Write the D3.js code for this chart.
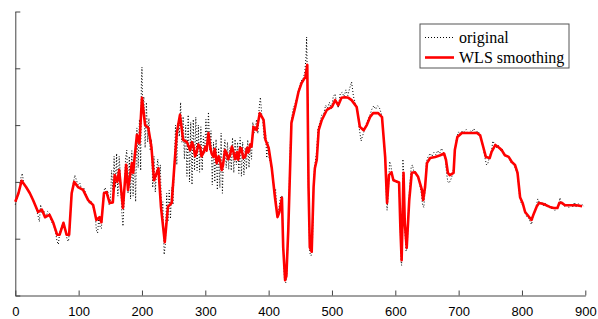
<!DOCTYPE html>
<html>
<head>
<meta charset="utf-8">
<script src="https://cdn.jsdelivr.net/npm/d3@7"></script>
<style>
  body { margin: 0; background: #fff; }
</style>
</head>
<body>
<div id="chart"></div>
<script>
// Settings
const SIZE = [598, 319]
const X_RANGE = [15.3, 585.3]
const Y_RANGE = [295.5, 11.5]

const xTicks = [0, 100, 200, 300, 400, 500, 600, 700, 800, 900]
const yTicks = [0, 1, 2, 3, 4, 5]
const legendLabels = ["original", "WLS smoothing"]

// raw signal [x, value]
const original = [
  [0, 1.60], [3, 1.72], [6, 1.85], [9, 2.08], [11, 2.15], [13, 2.00], [16, 1.92], [20, 1.86],
  [24, 1.78], [27, 1.70], [30, 1.62], [33, 1.52], [36, 1.40], [38, 1.30], [40, 1.60], [42, 1.45],
  [45, 1.50], [48, 1.35], [51, 1.48], [54, 1.45], [57, 1.30], [60, 1.25], [63, 1.15], [66, 0.95],
  [68, 0.90], [70, 1.10], [73, 1.20], [76, 1.30], [79, 1.15], [82, 0.98], [84, 0.95], [86, 1.20],
  [88, 1.70], [91, 1.95], [94, 2.12], [96, 2.05], [99, 1.95], [102, 1.98], [105, 1.85], [108, 1.90],
  [111, 1.80], [114, 1.70], [117, 1.62], [120, 1.65], [123, 1.55], [126, 1.45], [128, 1.15], [130, 1.10],
  [132, 1.40], [134, 1.20], [136, 1.18], [138, 1.60], [140, 1.85], [142, 1.90], [144, 1.78], [146, 1.85],
  [148, 1.60], [150, 1.60], [152, 2.20], [154, 1.85], [156, 2.45], [158, 1.90], [160, 2.50], [162, 1.75],
  [164, 2.45], [166, 2.10], [168, 1.50], [170, 1.22], [172, 1.70], [174, 2.40], [176, 2.56], [178, 1.80],
  [180, 2.45], [182, 1.70], [184, 2.55], [186, 1.75], [188, 2.50], [190, 1.65], [192, 2.95], [194, 2.25],
  [196, 3.10], [198, 2.20], [199, 3.70], [200, 4.02], [201, 3.30], [203, 3.50], [205, 2.60], [207, 3.40],
  [209, 2.70], [211, 3.12], [213, 2.55], [215, 2.75], [217, 1.90], [219, 2.45], [221, 1.82], [223, 2.20],
  [225, 2.40], [227, 2.05], [229, 2.30], [231, 1.40], [233, 1.65], [235, 0.72], [237, 0.90], [239, 1.80],
  [241, 1.30], [243, 1.85], [245, 1.35], [247, 1.90], [249, 1.60], [251, 2.30], [253, 3.00], [255, 2.30],
  [257, 3.05], [259, 2.80], [261, 3.40], [263, 2.70], [265, 3.15], [267, 2.40], [269, 3.00], [271, 2.10],
  [273, 3.18], [275, 2.00], [277, 3.05], [279, 1.95], [281, 3.10], [283, 2.20], [285, 3.14], [287, 2.20],
  [289, 3.00], [291, 2.17], [293, 2.97], [295, 2.20], [297, 2.80], [299, 2.50], [301, 3.10], [303, 2.60],
  [305, 3.23], [307, 2.55], [309, 2.90], [311, 1.95], [313, 2.70], [315, 2.00], [317, 2.75], [319, 1.86],
  [321, 2.60], [323, 1.90], [325, 2.86], [327, 1.80], [329, 2.50], [331, 2.74], [333, 2.25], [335, 2.70],
  [337, 2.22], [339, 2.60], [341, 2.20], [343, 2.78], [345, 2.16], [347, 2.75], [349, 2.30], [351, 2.70],
  [353, 2.15], [355, 2.78], [357, 2.10], [359, 2.70], [361, 2.12], [363, 2.60], [365, 2.22], [367, 2.74],
  [369, 2.25], [371, 2.65], [373, 2.40], [375, 3.05], [377, 2.86], [379, 2.95], [381, 3.10], [383, 2.85],
  [385, 3.30], [387, 3.49], [389, 3.20], [391, 3.04], [393, 2.75], [395, 2.90], [397, 2.42], [399, 2.70],
  [401, 2.40], [403, 2.35], [405, 2.20], [407, 2.10], [409, 1.80], [411, 1.88], [413, 1.50], [415, 1.40],
  [417, 1.60], [419, 1.75], [421, 1.75], [423, 0.90], [425, 0.30], [427, 0.22], [429, 0.40], [431, 1.20],
  [434, 2.60], [436, 3.10], [439, 3.30], [442, 3.38], [445, 3.50], [448, 3.65], [451, 3.78], [454, 3.80],
  [457, 3.92], [459, 4.20], [460, 4.55], [462, 3.20], [463, 1.70], [465, 0.75], [467, 0.70], [469, 0.80],
  [471, 2.00], [473, 2.30], [476, 2.55], [478, 2.95], [481, 3.05], [484, 3.18], [487, 3.20], [490, 3.35],
  [493, 3.30], [496, 3.40], [499, 3.28], [502, 3.50], [505, 3.55], [507, 3.40], [510, 3.30], [513, 3.55],
  [516, 3.58], [519, 3.50], [522, 3.62], [525, 3.52], [528, 3.65], [531, 3.76], [534, 3.50], [537, 3.38],
  [540, 3.30], [543, 2.95], [546, 2.72], [548, 2.80], [551, 2.90], [554, 3.02], [557, 3.10], [560, 3.18],
  [563, 3.28], [566, 3.34], [569, 3.28], [572, 3.34], [575, 3.30], [578, 3.20], [581, 2.90], [584, 2.40],
  [586, 1.70], [587, 1.50], [589, 1.80], [591, 2.36], [593, 2.30], [595, 2.10], [598, 2.05], [601, 2.00],
  [604, 1.98], [606, 1.95], [608, 1.10], [609, 0.60], [610, 0.53], [611, 1.20], [612, 2.40], [613, 2.20],
  [615, 1.20], [617, 0.78], [619, 0.85], [621, 1.60], [623, 1.95], [625, 2.25], [627, 2.30], [629, 2.20],
  [632, 2.18], [635, 2.10], [638, 2.00], [641, 1.80], [643, 1.60], [645, 1.55], [647, 1.85], [649, 2.35],
  [652, 2.45], [655, 2.50], [658, 2.45], [661, 2.52], [664, 2.48], [667, 2.55], [670, 2.50], [673, 2.59],
  [676, 2.52], [679, 2.40], [681, 2.15], [683, 2.00], [685, 1.98], [688, 2.05], [691, 2.15], [694, 2.50],
  [697, 2.80], [700, 2.88], [703, 2.84], [706, 2.90], [709, 2.88], [712, 2.92], [715, 2.85], [718, 2.90],
  [721, 2.88], [724, 2.94], [727, 2.86], [730, 2.90], [733, 2.85], [736, 2.72], [739, 2.58], [742, 2.40],
  [744, 2.30], [746, 2.32], [749, 2.45], [752, 2.55], [754, 2.72], [757, 2.66], [760, 2.60], [763, 2.64],
  [766, 2.55], [769, 2.58], [772, 2.48], [775, 2.45], [778, 2.47], [781, 2.38], [784, 2.32], [787, 2.30],
  [790, 2.22], [793, 2.12], [796, 1.78], [799, 1.62], [802, 1.58], [805, 1.45], [808, 1.38], [811, 1.36],
  [813, 1.30], [815, 1.25], [817, 1.35], [820, 1.48], [823, 1.60], [825, 1.70], [828, 1.62], [831, 1.65],
  [834, 1.58], [837, 1.62], [840, 1.55], [843, 1.58], [846, 1.52], [849, 1.56], [852, 1.50], [855, 1.55],
  [858, 1.58], [860, 1.72], [862, 1.62], [865, 1.60], [868, 1.56], [871, 1.62], [874, 1.55], [877, 1.62],
  [880, 1.56], [883, 1.64], [886, 1.55], [889, 1.62], [892, 1.56], [895, 1.60], [898, 1.57]
]

// smoothed curve (red)  [x, value]
const wls = [
  [0, 1.65], [5, 1.80], [10, 2.02], [17, 1.91], [23, 1.80], [28, 1.68], [36, 1.47], [42, 1.51],
  [47, 1.38], [54, 1.42], [60, 1.28], [66, 1.07], [70, 1.07], [76, 1.28], [81, 1.07], [85, 1.07],
  [89, 1.80], [93, 2.00], [99, 1.91], [107, 1.86], [115, 1.68], [123, 1.59], [128, 1.33], [133, 1.38],
  [136, 1.29], [140, 1.80], [144, 1.82], [149, 1.63], [154, 1.64], [157, 2.12], [161, 2.00], [164, 2.21],
  [170, 1.54], [175, 2.30], [178, 1.86], [184, 2.33], [186, 2.16], [192, 2.83], [196, 2.68], [200, 3.48],
  [205, 3.00], [210, 2.95], [215, 2.61], [219, 2.03], [226, 2.24], [230, 1.56], [236, 0.94], [241, 1.56],
  [247, 1.63], [251, 2.26], [255, 2.86], [260, 3.18], [265, 2.74], [271, 2.70], [276, 2.56], [279, 2.70],
  [281, 2.64], [284, 2.45], [286, 2.51], [289, 2.66], [292, 2.61], [294, 2.45], [297, 2.51], [300, 2.62],
  [302, 2.55], [305, 2.86], [308, 2.60], [310, 2.50], [313, 2.44], [315, 2.58], [318, 2.33], [321, 2.45],
  [323, 2.39], [326, 2.21], [328, 2.30], [331, 2.56], [334, 2.50], [336, 2.40], [339, 2.47], [342, 2.62],
  [344, 2.55], [347, 2.40], [350, 2.52], [352, 2.39], [355, 2.60], [357, 2.59], [360, 2.42], [363, 2.44],
  [366, 2.60], [368, 2.52], [371, 2.66], [373, 2.62],
  [376, 2.97], [381, 2.91], [386, 3.21], [392, 3.09], [395, 2.74], [400, 2.60], [405, 2.24], [410, 1.73],
  [414, 1.38], [417, 1.47], [421, 1.72], [423, 0.85], [426, 0.27], [428, 0.34], [431, 1.15], [436, 3.04],
  [442, 3.32], [447, 3.58], [452, 3.74], [458, 3.85], [461, 4.06], [463, 1.91], [465, 0.85], [468, 0.77],
  [471, 1.91], [473, 2.24], [476, 2.39], [479, 2.91], [484, 3.09], [492, 3.27], [500, 3.32], [505, 3.44],
  [510, 3.35], [515, 3.48], [521, 3.49], [526, 3.48], [531, 3.44], [539, 3.32], [544, 2.97], [550, 2.91],
  [555, 3.00], [560, 3.14], [565, 3.21], [573, 3.21], [579, 3.14], [584, 2.44], [587, 1.63], [590, 2.12],
  [594, 2.17], [597, 2.03], [606, 1.99], [608, 1.20], [610, 0.62], [613, 2.16], [615, 1.27], [618, 0.84],
  [622, 1.68], [626, 2.16], [631, 2.17], [636, 2.09], [642, 1.86], [644, 1.68], [647, 1.91], [650, 2.33],
  [655, 2.42], [663, 2.44], [671, 2.47], [677, 2.50], [680, 2.39], [683, 2.16], [686, 2.12], [692, 2.16],
  [694, 2.56], [698, 2.79], [705, 2.86], [715, 2.86], [729, 2.86], [734, 2.82], [739, 2.61], [743, 2.44],
  [749, 2.42], [752, 2.53], [758, 2.65], [763, 2.61], [768, 2.56], [773, 2.47], [779, 2.44], [784, 2.35],
  [789, 2.30], [793, 2.16], [797, 1.73], [801, 1.63], [805, 1.47], [810, 1.40], [815, 1.33], [819, 1.45],
  [823, 1.56], [827, 1.63], [834, 1.61], [844, 1.56], [850, 1.54], [856, 1.54], [859, 1.63], [863, 1.63],
  [868, 1.59], [876, 1.59], [886, 1.59], [895, 1.57]
]

const svg = d3.select("#chart").append("svg")
  .attr("width", SIZE[0])
  .attr("height", SIZE[1])

const scaleX = d3.scaleLinear().domain([0, 900]).range(X_RANGE)
const scaleY = d3.scaleLinear().domain([0, 5]).range(Y_RANGE)

const line = d3.line()
  .x(d => scaleX(d[0]))
  .y(d => scaleY(d[1]))

// axes, ticks pointing inward
const xAxis = g => g
  .attr("transform", `translate(0,${Y_RANGE[0]})`)
  .call(d3.axisBottom(scaleX)
    .tickValues(xTicks)
    .tickSizeInner(-5)
    .tickSizeOuter(0)
    .tickPadding(11))
  .call(g => g.selectAll("text")
    .attr("font-family", "'Liberation Sans', Arial, sans-serif")
    .attr("font-size", 13)
    .attr("fill", "#000"))

const yAxis = g => g
  .attr("transform", `translate(${X_RANGE[0]},0)`)
  .call(d3.axisLeft(scaleY)
    .tickValues(yTicks)
    .tickSizeInner(-5)
    .tickSizeOuter(0)
    .tickFormat(""))

svg.append("g").call(xAxis)
svg.append("g").call(yAxis)
svg.selectAll(".domain, .tick line").attr("stroke", "#444")

svg.append("path")
  .datum(original)
  .attr("fill", "none")
  .attr("stroke", "#000")
  .attr("stroke-width", 1)
  .attr("stroke-dasharray", "1,2")
  .attr("d", line)

svg.append("path")
  .datum(wls)
  .attr("fill", "none")
  .attr("stroke", "#ff0000")
  .attr("stroke-width", 2.6)
  .attr("stroke-linejoin", "round")
  .attr("d", line)

// legend
const legend = svg.append("g").attr("transform", "translate(420,24)")
legend.append("rect")
  .attr("width", 149)
  .attr("height", 44)
  .attr("fill", "#fff")
  .attr("stroke", "#555")
  .attr("stroke-width", 1)

const legendStyles = [
  {stroke: "#000", width: 1, dash: "1,2"},
  {stroke: "#ff0000", width: 2.6, dash: null}
]

legend.selectAll("g.item")
  .data(legendLabels)
  .join("g")
    .attr("class", "item")
    .attr("transform", (d, i) => `translate(0,${13.5 + i * 20})`)
  .each(function(d, i) {
    const g = d3.select(this)
    g.append("line")
      .attr("x1", 5).attr("x2", 34)
      .attr("stroke", legendStyles[i].stroke)
      .attr("stroke-width", legendStyles[i].width)
      .attr("stroke-dasharray", legendStyles[i].dash)
    g.append("text")
      .attr("x", 39)
      .attr("y", 5)
      .attr("font-family", "'Liberation Serif', 'Times New Roman', serif")
      .attr("font-size", 16)
      .attr("fill", "#000")
      .text(d)
  })
</script>
</body>
</html>
